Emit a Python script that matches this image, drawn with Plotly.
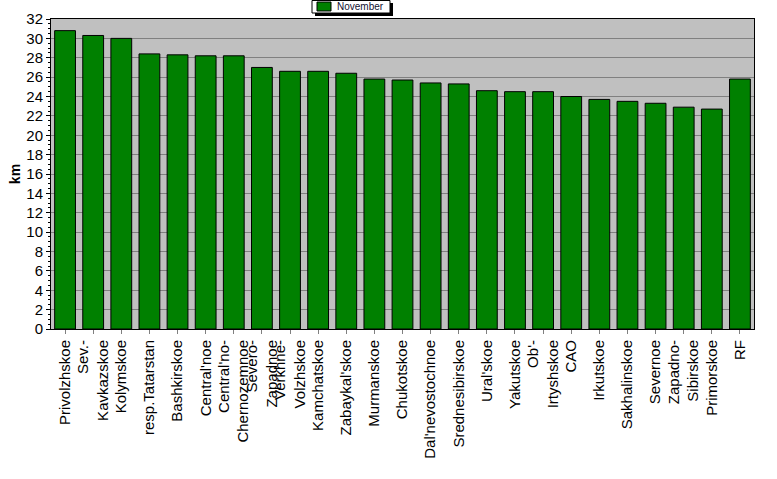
import plotly.graph_objects as go

regions = ["Privolzhskoe", "Sev.-<br>Kavkazskoe", "Kolymskoe", "resp.Tatarstan", "Bashkirskoe",
           "Central'noe", "Central'no-<br>Chernozemnoe", "Severo-<br>Zapadnoe", "Verkhne-<br>Volzhskoe",
           "Kamchatskoe", "Zabaykal'skoe", "Murmanskoe", "Chukotskoe", "Dal'nevostochnoe",
           "Srednesibirskoe", "Ural'skoe", "Yakutskoe", "Ob'-<br>Irtyshskoe", "CAO", "Irkutskoe",
           "Sakhalinskoe", "Severnoe", "Zapadno-<br>Sibirskoe", "Primorskoe", "RF"]

november = [30.8, 30.3, 30.0, 28.4, 28.3, 28.2, 28.2, 27.0, 26.6, 26.6, 26.4, 25.8, 25.7, 25.4,
            25.3, 24.6, 24.5, 24.5, 24.0, 23.7, 23.5, 23.3, 22.9, 22.7, 25.8]

yticks = list(range(0, 33, 2))

font = "Arial, Liberation Sans, sans-serif"

L, R, T, B = 51, 754, 19, 329
W, H = R - L, B - T


def px_x(p):
    return (p - L) / W


def px_y(p):
    return (B - p) / H


fig = go.Figure()
fig.add_trace(go.Bar(x=regions, y=november, name="November", showlegend=False,
                     marker=dict(color="#008000", line=dict(color="black", width=1))))

# hand-drawn legend box (small, with drop shadow like the original)
fig.add_shape(type="rect", xref="paper", yref="paper",
              x0=px_x(315), x1=px_x(393), y0=px_y(16), y1=px_y(3),
              fillcolor="black", line=dict(width=0))
fig.add_shape(type="rect", xref="paper", yref="paper",
              x0=px_x(312), x1=px_x(390), y0=px_y(13), y1=px_y(0.5),
              fillcolor="white", line=dict(color="black", width=1))
fig.add_shape(type="rect", xref="paper", yref="paper",
              x0=px_x(317), x1=px_x(331), y0=px_y(11), y1=px_y(2),
              fillcolor="#008000", line=dict(color="black", width=1))
fig.add_annotation(text="November", xref="paper", yref="paper", x=px_x(335), y=px_y(6.5),
                   xanchor="left", yanchor="middle", showarrow=False,
                   font=dict(family=font, size=10, color="#101030"))

fig.update_layout(
    width=777, height=479,
    margin=dict(l=L, r=777 - R, t=T, b=479 - B, autoexpand=False),
    paper_bgcolor="white",
    plot_bgcolor="#C0C0C0",
    bargap=0.26,
    font=dict(family=font, size=15, color="black"),
)

fig.update_xaxes(tickangle=-90, showline=True, linecolor="black", linewidth=1, mirror=True,
                 ticks="outside", ticklen=4, tickcolor="#808080",
                 tickfont=dict(family=font, size=15, color="black"))
fig.update_yaxes(range=[0, 32], tickvals=yticks, showgrid=True, gridcolor="#808080", gridwidth=1,
                 showline=True, linecolor="black", linewidth=1, mirror=True,
                 ticks="outside", ticklen=4, tickcolor="black",
                 minor=dict(ticks="outside", ticklen=2, tickcolor="black", dtick=0.5),
                 tickfont=dict(family=font, size=15, color="black"),
                 title=dict(text="<b>km</b>", font=dict(family=font, size=14), standoff=2),
                 zeroline=False)

fig.write_html("out.html", config={"displayModeBar": False},
               post_script="document.body.style.margin='0';")
